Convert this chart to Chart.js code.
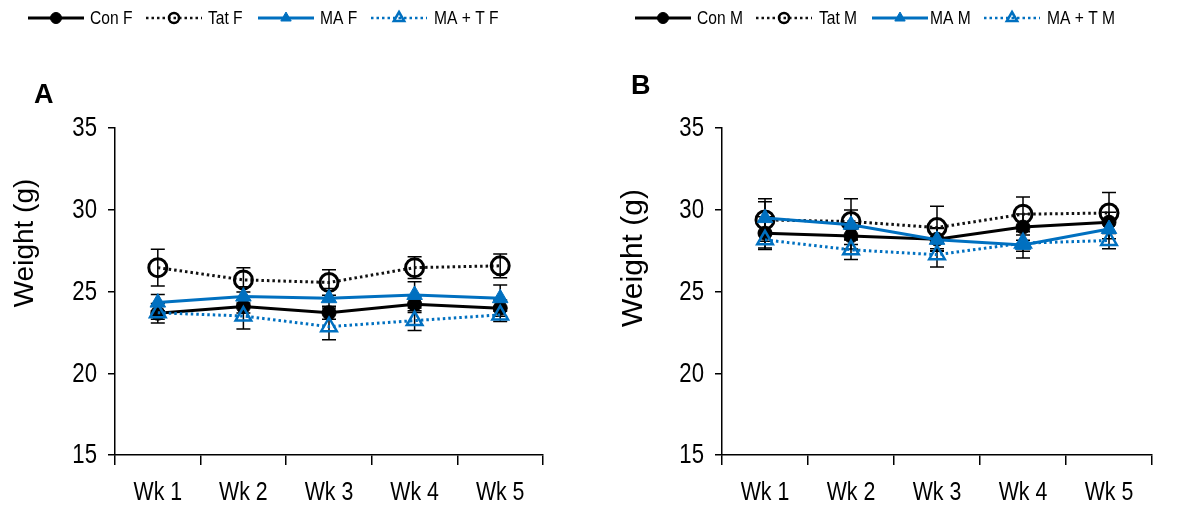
<!DOCTYPE html>
<html>
<head>
<meta charset="utf-8">
<script src="https://cdn.jsdelivr.net/npm/chart.js@4.4.1/dist/chart.umd.min.js"></script>
<style>
  html, body { margin: 0; padding: 0; background: #fff; }
  .panel { position: absolute; top: 0; height: 508px; }
</style>
</head>
<body>
<div class="panel" style="left:0;width:589px"><canvas id="chartA" width="589" height="508"></canvas></div>
<div class="panel" style="left:589px;width:590px"><canvas id="chartB" width="590" height="508"></canvas></div>
<script>
const weeks = ['Wk 1', 'Wk 2', 'Wk 3', 'Wk 4', 'Wk 5'];
const yTicks = [15, 20, 25, 30, 35];

// Panel A - females (mean weight, g)
const conF = [23.67, 24.08, 23.7, 24.22, 23.98];
const conFErr = [0.6, 0.4, 0.4, 0.5, 0.5];
const tatF = [26.46, 25.71, 25.55, 26.46, 26.57];
const tatFErr = [1.13, 0.74, 0.78, 0.66, 0.73];
const maF = [24.32, 24.69, 24.59, 24.79, 24.59];
const maFErr = [0.5, 0.6, 0.6, 0.8, 0.8];
const matF = [23.7, 23.5, 22.85, 23.22, 23.57];
const matFErr = [0.4, 0.8, 0.8, 0.6, 0.4];

// Panel B - males
const conM = [28.57, 28.4, 28.2, 28.94, 29.24];
const conMErr = [1.0, 0.8, 0.7, 0.8, 0.6];
const tatM = [29.38, 29.28, 28.91, 29.73, 29.8];
const tatMErr = [1.3, 1.4, 1.3, 1.05, 1.25];
const maM = [29.49, 29.08, 28.16, 27.85, 28.82];
const maMErr = [1.0, 0.9, 0.7, 0.8, 0.6];
const matM = [28.16, 27.55, 27.25, 27.96, 28.12];
const matMErr = [0.5, 0.6, 0.75, 0.5, 0.5];

const BLUE = '#0070C0';
const SANS = "'Liberation Sans', Arial, sans-serif";
const SQUEEZE = 0.82; // no narrow face installed, so squeeze Liberation Sans

function makeDatasets(names, vals, errs) {
    return [
        { label: names[0], data: vals[0], errorBars: errs[0], order: 3,
          borderColor: '#000', borderWidth: 3, pointStyle: 'circle', pointRadius: 7,
          pointBackgroundColor: '#000', pointBorderColor: '#000', pointBorderWidth: 1,
          legendRadius: 5.5 },
        { label: names[1], data: vals[1], errorBars: errs[1], order: 2,
          borderColor: '#111', borderWidth: 3, borderDash: [2.5, 3], pointStyle: 'circle', pointRadius: 9,
          pointBackgroundColor: 'rgba(255,255,255,0)', pointBorderColor: '#000', pointBorderWidth: 3,
          legendRadius: 5 },
        { label: names[2], data: vals[2], errorBars: errs[2], order: 0,
          borderColor: BLUE, borderWidth: 3, pointStyle: 'triangle', pointRadius: 9,
          pointBackgroundColor: BLUE, pointBorderColor: BLUE, pointBorderWidth: 1,
          legendRadius: 6 },
        { label: names[3], data: vals[3], errorBars: errs[3], order: 1,
          borderColor: BLUE, borderWidth: 3, borderDash: [2.5, 3], pointStyle: 'triangle', pointRadius: 9,
          pointBackgroundColor: 'rgba(255,255,255,0)', pointBorderColor: BLUE, pointBorderWidth: 2.5,
          legendRadius: 6 }
    ];
}

function narrowText(ctx, text, x, y, size, align) {
    ctx.save();
    ctx.font = size + 'px ' + SANS;
    ctx.textAlign = align;
    ctx.translate(x, y);
    ctx.scale(SQUEEZE, 1);
    ctx.fillText(text, 0, 0);
    ctx.restore();
}

// error bars (mean +/- SEM) drawn under the markers
const errorBarPlugin = {
    id: 'errorBars',
    beforeDatasetsDraw(chart) {
        const ctx = chart.ctx;
        const y = chart.scales.y;
        ctx.save();
        ctx.strokeStyle = '#000';
        ctx.lineWidth = 1.5;
        chart.data.datasets.forEach((ds, i) => {
            const meta = chart.getDatasetMeta(i);
            meta.data.forEach((pt, j) => {
                const e = ds.errorBars[j];
                const top = y.getPixelForValue(ds.data[j] + e);
                const bot = y.getPixelForValue(ds.data[j] - e);
                ctx.beginPath();
                ctx.moveTo(pt.x, top); ctx.lineTo(pt.x, bot);
                ctx.moveTo(pt.x - 7, top); ctx.lineTo(pt.x + 7, top);
                ctx.moveTo(pt.x - 7, bot); ctx.lineTo(pt.x + 7, bot);
                ctx.stroke();
            });
        });
        ctx.restore();
    }
};

// tick labels, legend row, panel letter and rotated y title
const decorPlugin = {
    id: 'decor',
    afterDraw(chart, args, opts) {
        const ctx = chart.ctx;
        const xs = chart.scales.x, ys = chart.scales.y;
        ctx.save();
        ctx.fillStyle = '#000';
        ctx.textBaseline = 'middle';
        ys.ticks.forEach(t => {
            narrowText(ctx, String(t.value), ys.right - 18, ys.getPixelForValue(t.value) + 1, 27, 'right');
        });
        ctx.textBaseline = 'alphabetic';
        xs.ticks.forEach((t, i) => {
            narrowText(ctx, t.label, xs.getPixelForTick(i), 500, 26, 'center');
        });

        chart.data.datasets.forEach((ds, k) => {
            const x0 = opts.legendX[k];
            const ly = 18;
            ctx.setLineDash(ds.borderDash || []);
            ctx.strokeStyle = ds.borderColor;
            ctx.lineWidth = ds.borderDash ? 2.5 : 3;
            ctx.beginPath();
            ctx.moveTo(x0, ly); ctx.lineTo(x0 + 56, ly);
            ctx.stroke();
            ctx.setLineDash([]);
            ctx.fillStyle = ds.pointBackgroundColor;
            ctx.strokeStyle = ds.pointBorderColor;
            ctx.lineWidth = Math.min(ds.pointBorderWidth, 2.5);
            Chart.helpers.drawPoint(ctx, { pointStyle: ds.pointStyle, radius: ds.legendRadius, rotation: 0, borderWidth: ds.pointBorderWidth }, x0 + 28, ly);
            ctx.fillStyle = '#000';
            ctx.textBaseline = 'middle';
            narrowText(ctx, ds.label, x0 + opts.textGap[k], ly + 1, 19, 'left');
        });

        ctx.fillStyle = '#000';
        ctx.font = 'bold 27px ' + SANS;
        ctx.textAlign = 'left';
        ctx.textBaseline = 'alphabetic';
        ctx.fillText(opts.letter, opts.letterX, opts.letterY);
        ctx.translate(opts.titleX, opts.titleY);
        ctx.rotate(-Math.PI / 2);
        ctx.font = opts.titleSize + 'px ' + SANS;
        ctx.textAlign = 'center';
        ctx.textBaseline = 'middle';
        ctx.fillText('Weight (g)', 0, 0);
        ctx.restore();
    }
};

function makeChart(id, datasets, pad, decor) {
    return new Chart(document.getElementById(id), {
        type: 'line',
        data: { labels: weeks, datasets: datasets },
        options: {
            responsive: false,
            animation: false,
            layout: { padding: pad },
            plugins: { legend: { display: false }, tooltip: { enabled: false }, decor: decor },
            elements: { line: { tension: 0 } },
            scales: {
                x: {
                    offset: true,
                    grid: { display: true, offset: true, drawOnChartArea: false, drawTicks: true,
                            tickLength: 10, color: '#000', lineWidth: 1.5 },
                    border: { display: true, color: '#000', width: 1.5 },
                    ticks: { display: false },
                    afterFit: s => { s.height = 53; }
                },
                y: {
                    min: yTicks[0],
                    max: yTicks[yTicks.length - 1],
                    afterBuildTicks: s => { s.ticks = yTicks.map(v => ({ value: v })); },
                    grid: { display: true, drawOnChartArea: false, drawTicks: true,
                            tickLength: 7, color: '#000', lineWidth: 1.5 },
                    border: { display: true, color: '#000', width: 1.5 },
                    ticks: { display: false },
                    afterFit: s => { s.width = 60; }
                }
            }
        },
        plugins: [errorBarPlugin, decorPlugin]
    });
}

makeChart('chartA',
    makeDatasets(['Con F', 'Tat F', 'MA F', 'MA + T F'], [conF, tatF, maF, matF], [conFErr, tatFErr, maFErr, matFErr]),
    { left: 55, right: 46, top: 128, bottom: 0 },
    { legendX: [28, 146, 258, 371], textGap: [62, 62, 62, 63], letter: 'A', letterX: 34, letterY: 103,
      titleX: 25, titleY: 243, titleSize: 28 });

makeChart('chartB',
    makeDatasets(['Con M', 'Tat M', 'MA M', 'MA + T M'], [conM, tatM, maM, matM], [conMErr, tatMErr, maMErr, matMErr]),
    { left: 73, right: 27, top: 128, bottom: 0 },
    { legendX: [46, 167, 283, 395], textGap: [62, 63, 58, 63], letter: 'B', letterX: 42, letterY: 94,
      titleX: 45, titleY: 258, titleSize: 30 });
</script>
</body>
</html>
